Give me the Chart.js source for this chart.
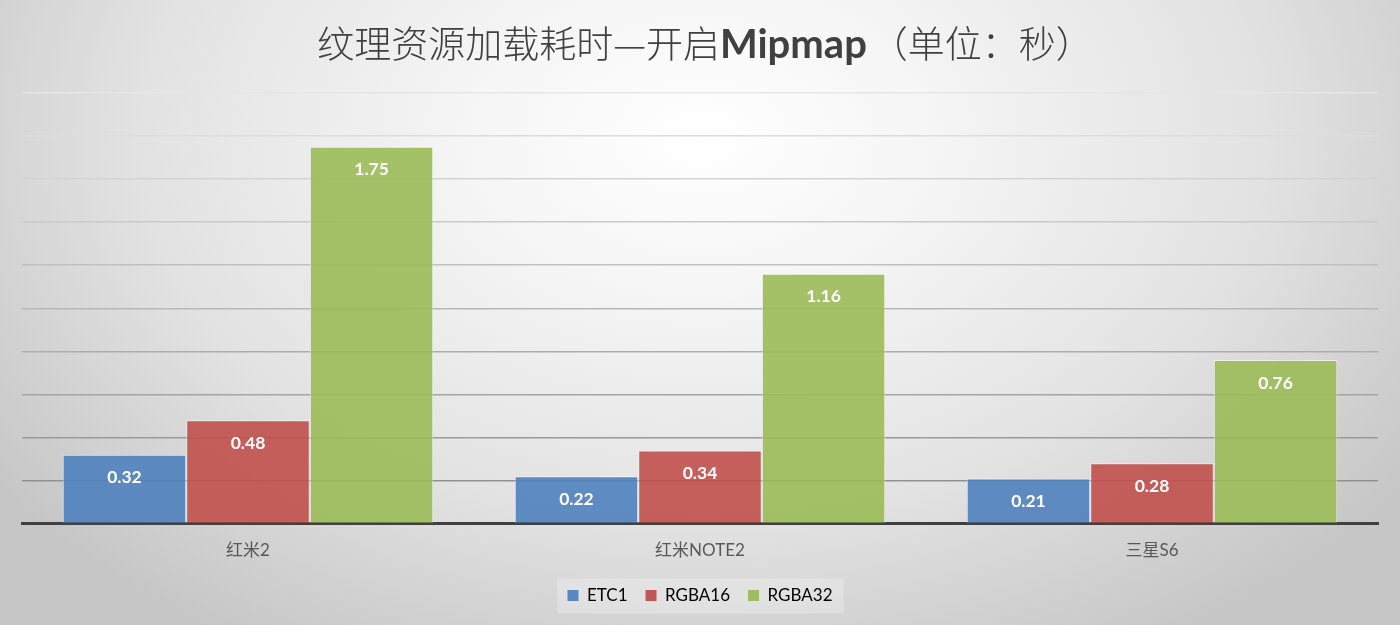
<!DOCTYPE html>
<html>
<head>
<meta charset="utf-8">
<script src="https://cdn.jsdelivr.net/npm/chart.js@4.4.1/dist/chart.umd.min.js"></script>
<style>
  html, body { margin: 0; padding: 0; }
  body {
    width: 1400px; height: 625px; overflow: hidden;
    background: radial-gradient(ellipse 62% 95% at 50% 22%, #ffffff 0%, #f6f6f6 25%, #e2e2e2 65%, #c6c6c6 100%);
  }
  #wrap { position: relative; width: 1400px; height: 625px; }
</style>
</head>
<body>
<div id="wrap"><canvas id="c" width="1400" height="625"></canvas></div>
<script>
const titleParts = [
  { text: '纹理资源加载耗时—开启', bold: false },
  { text: 'Mipmap', bold: true },
  { text: '（单位：秒）', bold: false }
];
const categories = ['红米2', '红米NOTE2', '三星S6'];
const seriesNames = ['ETC1', 'RGBA16', 'RGBA32'];
const etc1 = [0.32, 0.22, 0.21];
const rgba16 = [0.48, 0.34, 0.28];
const rgba32 = [1.75, 1.16, 0.76];
const yMin = 0, yMax = 2.0, yStep = 0.2;

const colors = ['rgba(79,129,189,0.9)', 'rgba(192,80,77,0.9)', 'rgba(155,187,89,0.9)'];
const legendColors = ['#5b87bf', '#c0585a', '#9fbd64'];

const bgPlugin = {
  id: 'decor',
  beforeDraw(chart) {
    const ctx = chart.ctx;
    const lg = chart.legend;
    if (lg && lg.legendHitBoxes && lg.legendHitBoxes.length) {
      const hb = lg.legendHitBoxes;
      const x0 = hb[0].left - 10;
      const x1 = hb[hb.length - 1].left + hb[hb.length - 1].width + 11;
      const yc = hb[0].top + hb[0].height / 2;
      ctx.save();
      ctx.fillStyle = 'rgba(255,255,255,0.25)';
      ctx.fillRect(x0, yc - 17, x1 - x0, 35);
      ctx.restore();
    }
  },
  afterDraw(chart) {
    const ctx = chart.ctx;
    ctx.save();
    const cjk = '"Noto Sans CJK SC", "Noto Sans", sans-serif';
    const fonts = titleParts.map(p => p.bold ? 'bold 40px Lato, ' + cjk : '300 37px ' + cjk);
    let widths = titleParts.map((p, i) => { ctx.font = fonts[i]; return ctx.measureText(p.text).width; });
    const total = widths.reduce((a, b) => a + b, 0);
    let x = 703 - total / 2;
    ctx.fillStyle = '#404040';
    ctx.textBaseline = 'alphabetic';
    titleParts.forEach((p, i) => {
      ctx.font = fonts[i];
      ctx.fillText(p.text, x, 58);
      x += widths[i] + (p.bold ? 4 : 0);
    });
    ctx.restore();
  },
  afterDatasetsDraw(chart) {
    const ctx = chart.ctx;
    ctx.save();
    ctx.fillStyle = '#ffffff';
    ctx.font = 'bold 17.5px Lato, "Open Sans", sans-serif';
    ctx.textAlign = 'center';
    ctx.textBaseline = 'middle';
    chart.data.datasets.forEach((ds, di) => {
      const meta = chart.getDatasetMeta(di);
      meta.data.forEach((bar, i) => {
        ctx.fillText(ds.data[i].toFixed(2), bar.x, bar.y + 23);
      });
    });
    ctx.restore();
  }
};

function gridColor(v) {
  const t = (v - yMin) / (yMax - yMin);
  const c = Math.round(135 + t * 95);
  return `rgb(${c},${c},${c})`;
}

new Chart(document.getElementById('c'), {
  type: 'bar',
  data: {
    labels: categories,
    datasets: [
      { label: seriesNames[0], data: etc1, backgroundColor: colors[0] },
      { label: seriesNames[1], data: rgba16, backgroundColor: colors[1] },
      { label: seriesNames[2], data: rgba32, backgroundColor: colors[2] }
    ].map(d => Object.assign(d, { borderColor: 'rgba(255,255,255,0.55)', borderWidth: 1, categoryPercentage: 0.82, barPercentage: 1.0 }))
  },
  options: {
    responsive: false,
    animation: false,
    devicePixelRatio: 1,
    layout: { padding: { top: 93, left: 22, right: 22, bottom: 11 } },
    plugins: {
      title: { display: false },
      tooltip: { enabled: false },
      legend: {
        position: 'bottom',
        labels: {
          boxWidth: 11, boxHeight: 11,
          color: '#404040',
          font: { size: 17, family: 'Lato, "Open Sans", sans-serif' },
          padding: 18,
          generateLabels(chart) {
            return chart.data.datasets.map((d, i) => ({
              text: d.label, fillStyle: legendColors[i], strokeStyle: legendColors[i], lineWidth: 0, datasetIndex: i, hidden: false
            }));
          }
        }
      }
    },
    scales: {
      x: {
        grid: { display: false, drawTicks: false },
        border: { display: true, color: '#404040', width: 3 },
        ticks: {
          color: '#595959',
          padding: 17,
          font: { size: 17, family: 'Lato, "Noto Sans CJK SC", sans-serif' }
        },
        afterFit(scale) { scale.height -= 9; }
      },
      y: {
        min: yMin, max: yMax,
        ticks: { display: false, stepSize: yStep },
        border: { display: false },
        grid: {
          drawTicks: false,
          lineWidth: 1.5,
          color: ctx => ctx.tick && ctx.tick.value === 0 ? 'rgba(0,0,0,0)' : gridColor(ctx.tick ? ctx.tick.value : 0)
        }
      }
    }
  },
  plugins: [bgPlugin]
});
</script>
</body>
</html>
